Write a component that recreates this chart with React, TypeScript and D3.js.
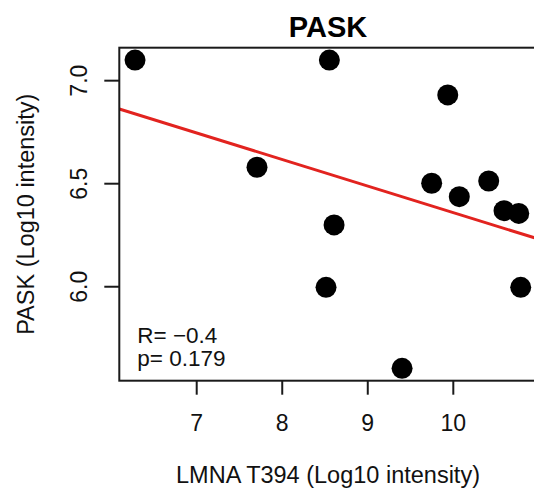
import React from "react";
import * as d3 from "d3";

const title = "PASK";
const xLabel = "LMNA T394 (Log10 intensity)";
const yLabel = "PASK (Log10 intensity)";
const xValues = [6.279, 8.551, 9.935, 7.705, 9.747, 10.07, 10.414, 10.593, 10.765, 8.606, 8.512, 10.788, 9.401];
const yValues = [7.1, 7.1, 6.931, 6.58, 6.502, 6.437, 6.513, 6.369, 6.356, 6.3, 5.997, 5.997, 5.604];
const xTicks = [7, 8, 9, 10];
const yTicks = [6.0, 6.5, 7.0];
const statLines = ["R= \u22120.4", "p= 0.179"];

const W = 534;
const H = 492;
const M = { left: 119.3, right: 536.7, top: 47.7, bottom: 380.7 };
const FONT = "'Liberation Sans', Arial, Helvetica, sans-serif";

export default function App() {
  const x = d3.scaleLinear().domain([6.095, 10.975]).range([M.left, M.right]);
  const y = d3.scaleLinear().domain([5.544, 7.16]).range([M.bottom, M.top]);

  const mx = d3.mean(xValues) as number;
  const my = d3.mean(yValues) as number;
  let sxy = 0;
  let sxx = 0;
  xValues.forEach((v, i) => {
    sxy += (v - mx) * (yValues[i] - my);
    sxx += (v - mx) * (v - mx);
  });
  const slope = sxy / sxx;
  const intercept = my - slope * mx;
  const [x0, x1] = x.domain();
  const line = d3
    .line<number>()
    .x((d) => x(d))
    .y((d) => y(intercept + slope * d));

  const stroke = "#1a1a1a";

  return (
    <div style={{ position: "absolute", left: 0, top: 0 }}>
      <svg width={W} height={H} style={{ display: "block", background: "#fff" }} fontFamily={FONT}>
        <defs>
          <clipPath id="plotclip">
            <rect x={M.left} y={M.top} width={M.right - M.left} height={M.bottom - M.top} />
          </clipPath>
        </defs>
        <text x={(M.left + M.right) / 2} y={37.3} textAnchor="middle" fontSize={29} fontWeight="bold" fill="#000">
          {title}
        </text>
        <path d={line([x0, x1]) || ""} stroke="#e2231f" strokeWidth={3} fill="none" clipPath="url(#plotclip)" />
        {xValues.map((v, i) => (
          <circle key={i} cx={x(v)} cy={y(yValues[i])} r={10.5} fill="#000" />
        ))}
        <rect
          x={M.left}
          y={M.top}
          width={M.right - M.left}
          height={M.bottom - M.top}
          fill="none"
          stroke={stroke}
          strokeWidth={2}
        />
        {xTicks.map((t) => (
          <g key={t}>
            <line x1={x(t)} x2={x(t)} y1={M.bottom} y2={M.bottom + 14} stroke={stroke} strokeWidth={2} />
            <text x={x(t)} y={430.5} textAnchor="middle" fontSize={23} fill="#111">
              {t}
            </text>
          </g>
        ))}
        {yTicks.map((t) => (
          <g key={t}>
            <line x1={M.left - 15} x2={M.left} y1={y(t)} y2={y(t)} stroke={stroke} strokeWidth={2} />
            <text
              transform={`translate(86.5,${y(t)}) rotate(-90)`}
              textAnchor="middle"
              fontSize={23}
              fill="#111"
            >
              {t.toFixed(1)}
            </text>
          </g>
        ))}
        {statLines.map((s, i) => (
          <text key={i} x={137.3} y={342.7 + i * 23} fontSize={22.5} fill="#111">
            {s}
          </text>
        ))}
        <text x={(M.left + M.right) / 2} y={483} textAnchor="middle" fontSize={23.5} fill="#111">
          {xLabel}
        </text>
        <text
          transform={`translate(33.5,${(M.top + M.bottom) / 2}) rotate(-90)`}
          textAnchor="middle"
          fontSize={23.5}
          fill="#111"
        >
          {yLabel}
        </text>
      </svg>
    </div>
  );
}
